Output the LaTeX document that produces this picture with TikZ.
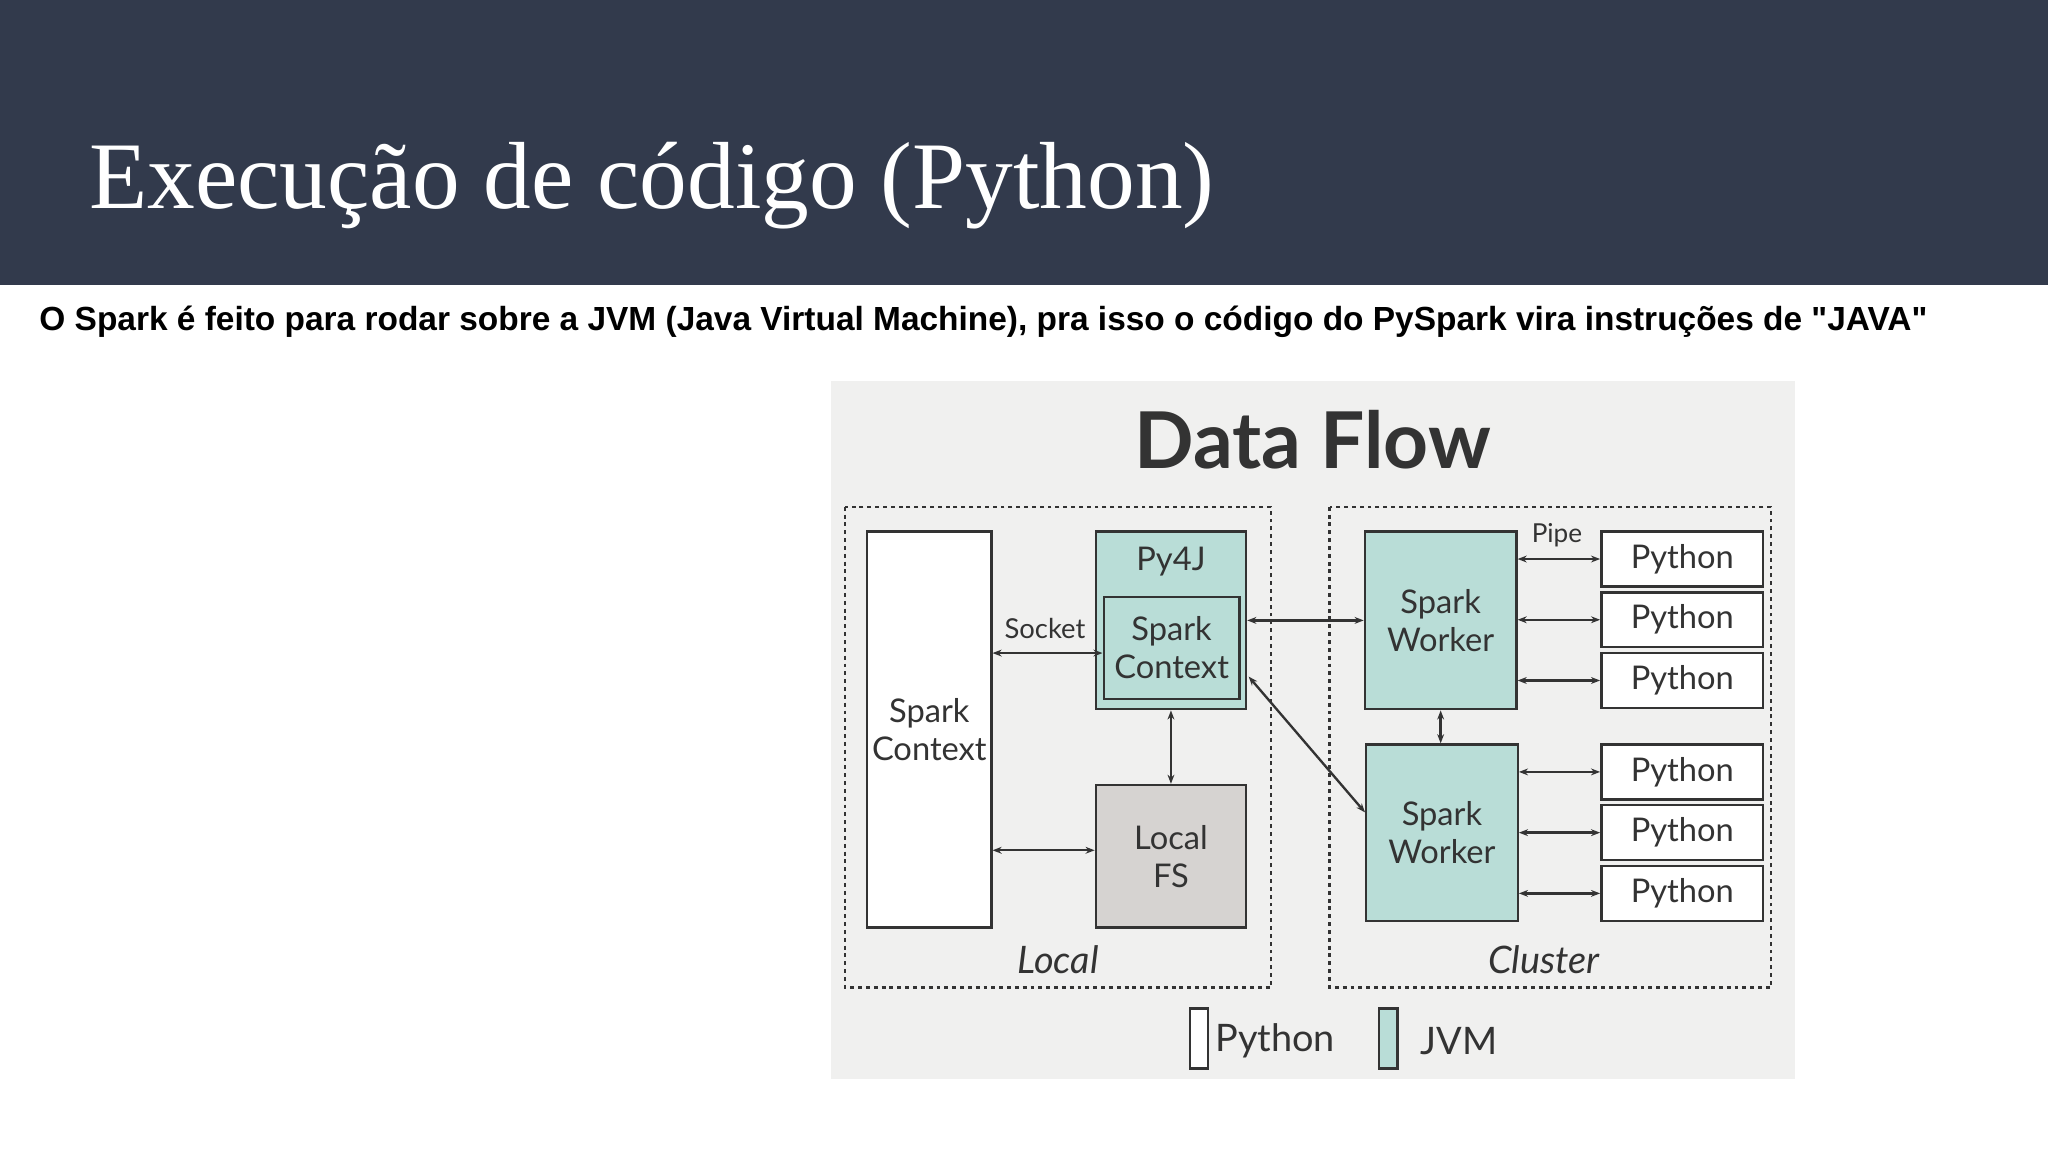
\documentclass[tikz,border=0pt]{standalone}
\usepackage{fontspec}
\setmainfont{Liberation Serif}
\newfontfamily\dfont{Lato}
\newfontfamily\sfont{Liberation Sans}
\usetikzlibrary{arrows.meta}
\definecolor{band}{HTML}{323A4C}
\definecolor{panel}{HTML}{F0F0EF}
\definecolor{teal}{HTML}{B9DDD7}
\definecolor{fsg}{HTML}{D6D3D1}
\definecolor{ink}{HTML}{333333}
\begin{document}
\begin{tikzpicture}[x=1pt,y=-1pt,
  box/.style={draw=ink,line width=1.8pt},
  txt/.style={font=\dfont\fontsize{25}{29}\selectfont,text=ink,align=center},
  arr/.style={draw=ink,line width=1.8pt,{Stealth[length=7pt]}-{Stealth[length=7pt]}},
  dashedbox/.style={draw=ink,line width=1.9pt,dash pattern=on 3pt off 3pt}]
\useasboundingbox (0,0) rectangle (1568,882);
\fill[white] (0,0) rectangle (1568,882);
\fill[band] (0,0) rectangle (1568,218);
\node[anchor=base west,text=white,font=\fontsize{73}{78}\selectfont,inner sep=0] (title) at (68,160) {Execução de código (Python)};
\node[anchor=base west,font=\sfont\bfseries\fontsize{25.6}{28}\selectfont,inner sep=0] (sub) at (30,253) {O Spark é feito para rodar sobre a JVM (Java Virtual Machine), pra isso o código do PySpark vira instruções de "JAVA"};
\fill[panel] (636,292) rectangle (1374,826);
\node[font=\dfont\bfseries\fontsize{60}{64}\selectfont,text=ink] (df) at (1005,337) {Data Flow};
\draw[dashedbox] (647,388) rectangle (973,756);
\draw[dashedbox] (1018,388) rectangle (1356,756);
\node[box,fill=white,minimum width=95pt,minimum height=303pt,txt] (sc) at (711.5,558.5) {Spark\\Context};
\node[box,fill=teal,minimum width=115pt,minimum height=136pt] (py4j) at (896.5,475) {};
\node[txt,anchor=center] (py4jl) at (896.5,430) {Py4J};
\node[box,fill=teal,minimum width=104pt,minimum height=78pt,txt] (jsc) at (897,496) {Spark\\Context};
\node[box,fill=fsg,minimum width=115pt,minimum height=109pt,txt] (fs) at (896.5,655.5) {Local\\FS};
\node[box,fill=teal,minimum width=116pt,minimum height=136pt,txt] (w1) at (1103,475) {Spark\\Worker};
\node[box,fill=teal,minimum width=116pt,minimum height=135pt,txt] (w2) at (1104,637.5) {Spark\\Worker};
\foreach \n/\y in {p1/428,p2/474.5,p3/521,p4/591,p5/637.5,p6/684}{
  \node[box,fill=white,minimum width=124pt,minimum height=42pt,txt] (\n) at (1288,\y) {Python};}
\draw[arr] (sc.east |- 0,500) -- (jsc.west |- 0,500);
\node[txt,font=\dfont\fontsize{21}{24}\selectfont] (sock) at (800,481) {Socket};
\draw[arr] (sc.east |- 0,651) -- (fs.west |- 0,651);
\draw[arr] (py4j.south) -- (fs.north);
\draw[arr] (py4j.east |- 0,475) -- (w1.west |- 0,475);
\draw[arr] (956,518) -- (w2.west |- 0,622);
\draw[arr] (w1.south) -- (w2.north -| w1.south);
\foreach \n in {p1,p2,p3}{\draw[arr] (w1.east |- \n.west) -- (\n.west);}
\foreach \n in {p4,p5,p6}{\draw[arr] (w2.east |- \n.west) -- (\n.west);}
\node[txt,font=\dfont\fontsize{20}{24}\selectfont] (pipe) at (1192,410) {Pipe};
\node[txt,font=\dfont\itshape\fontsize{29}{32}\selectfont] (loc) at (810,735) {Local};
\node[txt,font=\dfont\itshape\fontsize{29}{32}\selectfont] (clu) at (1182,735) {Cluster};
\node[box,fill=white,minimum width=14pt,minimum height=46pt,inner sep=0] (lp) at (918,795) {};
\node[txt,anchor=west,font=\dfont\fontsize{29}{32}\selectfont] (lpt) at (927,797) {Python};
\node[box,fill=teal,minimum width=14pt,minimum height=46pt,inner sep=0] (lj) at (1063,795) {};
\node[txt,anchor=west,font=\dfont\fontsize{29}{32}\selectfont] (ljt) at (1084,797) {JVM};
\end{tikzpicture}
\end{document}
